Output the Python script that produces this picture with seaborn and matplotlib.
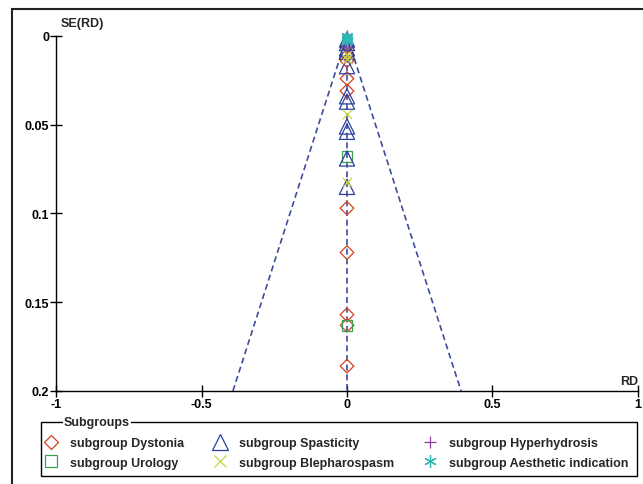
import matplotlib
matplotlib.use('Agg')
import matplotlib.pyplot as plt
import seaborn as sns
from matplotlib.lines import Line2D
from matplotlib.patches import Rectangle

sns.set_style("ticks")
plt.rcParams['font.family'] = ['Liberation Sans', 'DejaVu Sans']
plt.rcParams['font.weight'] = 'bold'

# ---- data (RD, SE(RD)) ----
dystonia_rd = [0.0, 0.0, 0.0, 0.0, 0.0, 0.0, 0.0, 0.0, 0.0, 0.0]
dystonia_se = [0.011, 0.014, 0.024, 0.031, 0.097, 0.122, 0.157, 0.163, 0.186, 0.006]
spasticity_rd = [0.0, 0.0, 0.0, 0.0, 0.0, 0.0, 0.0, 0.0, 0.0, 0.0, 0.0]
spasticity_se = [0.004, 0.007, 0.009, 0.017, 0.034, 0.037, 0.051, 0.054, 0.069, 0.085, 0.002]
urology_rd = [0.0, 0.0]
urology_se = [0.068, 0.163]
blepharospasm_rd = [0.0, 0.0, 0.0, 0.0]
blepharospasm_se = [0.011, 0.013, 0.044, 0.082]
hyperhydrosis_rd = [0.0]
hyperhydrosis_se = [0.006]
aesthetic_rd = [0.0, 0.0, 0.0, 0.0]
aesthetic_se = [0.000, 0.001, 0.002, 0.003]

se_max = 0.2
x_ticks = [-1, -0.5, 0, 0.5, 1]
x_labels = ['-1', '-0.5', '0', '0.5', '1']
y_ticks = [0, 0.05, 0.1, 0.15, 0.2]
y_labels = ['0', '0.05', '0.1', '0.15', '0.2']

ASTERISK = (6, 2, 0)
groups = [
    ("subgroup Dystonia", dystonia_rd, dystonia_se, 'D', "#d2401f", 48, True),
    ("subgroup Urology", urology_rd, urology_se, 's', "#3aa24a", 60, True),
    ("subgroup Spasticity", spasticity_rd, spasticity_se, '^', "#2b3f9e", 120, True),
    ("subgroup Blepharospasm", blepharospasm_rd, blepharospasm_se, 'x', "#c9d43c", 45, False),
    ("subgroup Hyperhydrosis", hyperhydrosis_rd, hyperhydrosis_se, '+', "#8c3f9c", 55, False),
    ("subgroup Aesthetic indication", aesthetic_rd, aesthetic_se, ASTERISK, "#2cb8b2", 70, False),
]
legend_ms = {'D': 7.5, 's': 8, '^': 11, 'x': 8, '+': 9, ASTERISK: 9}

fig = plt.figure(figsize=(6.43, 4.85), dpi=100)
ax = fig.add_axes([0.0871, 0.1918, 0.9051, 0.732])

# funnel (pseudo 95% limits) and the null line
dash_col = "#3d4d9e"
ax.plot([-1.96 * se_max, 0, 1.96 * se_max], [se_max, 0, se_max],
        color=dash_col, lw=1.2, dashes=(3.6, 2.2), zorder=1)
ax.plot([0, 0], [0, se_max], color=dash_col, lw=1.2, dashes=(3.6, 2.2), zorder=1)

handles = []
for name, rd, se, mk, col, size, filled in groups:
    if filled:
        sns.scatterplot(x=rd, y=se, marker=mk, s=size, facecolor='none',
                        edgecolor=col, linewidth=0.9, ax=ax, clip_on=False, zorder=3)
    else:
        sns.scatterplot(x=rd, y=se, marker=mk, s=size, color=col,
                        linewidth=0.9, ax=ax, clip_on=False, zorder=3)
    handles.append(Line2D([], [], ls='none', marker=mk, markersize=legend_ms[mk],
                          markerfacecolor='none', markeredgecolor=col, color=col,
                          markeredgewidth=0.9, label=name))

ax.set_xlim(-1, 1)
ax.set_ylim(se_max, 0)
ax.set_xticks(x_ticks)
ax.set_xticklabels(x_labels)
ax.set_yticks(y_ticks)
ax.set_yticklabels(y_labels)
ax.tick_params(direction='inout', length=8, width=1, labelsize=9, pad=1, colors='black')
for side in ['top', 'right']:
    ax.spines[side].set_visible(False)
for side in ['left', 'bottom']:
    ax.spines[side].set_linewidth(1)
    ax.spines[side].set_color('black')
ax.set_xlabel('')
ax.set_ylabel('')
ax.patch.set_alpha(0)

ax.annotate('SE(RD)', xy=(-1, 0), xytext=(3, 5), textcoords='offset points',
            ha='left', va='bottom', fontsize=9, fontweight='bold')
ax.annotate('RD', xy=(1, se_max), xytext=(0, 3), textcoords='offset points',
            ha='right', va='bottom', fontsize=9, fontweight='bold')

# legend box: frame drawn separately so the rows and the border can sit where the original has them
W, H = 643, 485
box_l, box_r, box_t, box_b = 41, 637, 423, 477
row_mid = 454
leg = fig.legend(handles=handles, loc='center left', ncol=3, mode='expand',
                 bbox_to_anchor=(box_l / W, (H - row_mid) / H - 0.05, (box_r - 5 - box_l) / W, 0.1),
                 borderaxespad=0, frameon=False, fontsize=9,
                 handlelength=1.0, handletextpad=1.0, labelspacing=0.6,
                 borderpad=0.3)
fig.patches.append(Rectangle((box_l / W, (H - box_b) / H), (box_r - box_l) / W,
                             (box_b - box_t) / H, transform=fig.transFigure,
                             fill=False, edgecolor='black', linewidth=1))
fig.text(64 / W, (H - box_t) / H, 'Subgroups', ha='left', va='center',
         fontsize=9, fontweight='bold', zorder=10,
         bbox=dict(facecolor='white', edgecolor='none', pad=1))

# outer frame of the figure panel
fig.patches.append(Rectangle((12 / W, -0.1), 1.0, (H - 9.5) / H + 0.1,
                             transform=fig.transFigure, fill=False,
                             edgecolor='#222222', linewidth=1.5))

fig.savefig('out.png', dpi=100, facecolor='white')
